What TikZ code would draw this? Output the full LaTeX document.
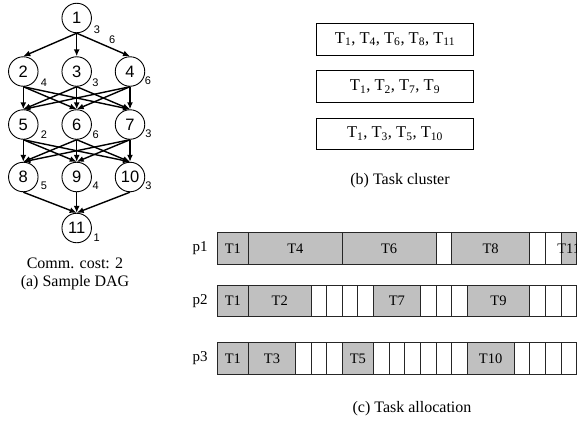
\documentclass[tikz,border=0pt]{standalone}
\usepackage{fontspec}
\setmainfont{Liberation Serif}
\newfontfamily\helv{Liberation Sans}
\usetikzlibrary{arrows.meta,calc}
\definecolor{taskgray}{RGB}{192,192,192}
\begin{document}
\begin{tikzpicture}[x=1pt,y=-1pt,
  dagnode/.style={circle, draw, line width=0.9pt, minimum size=29.5pt, inner sep=0pt, font=\helv\fontsize{16.5}{16.5}\selectfont},
  wt/.style={font=\helv\fontsize{11}{11}\selectfont, inner sep=0pt},
  dagedge/.style={line width=1.4pt, -{Latex[length=7pt,width=6pt]}},
  captext/.style={font=\fontsize{16}{16}\selectfont, inner sep=0pt},
  clbox/.style={draw, line width=0.8pt, minimum width=156.6pt, minimum height=31.7pt, inner sep=0pt, font=\fontsize{16.5}{16.5}\selectfont},
  cell/.style={draw=black!85, line width=0.9pt},
  celltext/.style={font=\fontsize{14.5}{14.5}\selectfont, inner sep=0pt},
  plabel/.style={font=\fontsize{15}{15}\selectfont, inner sep=0pt}]
\useasboundingbox (0,0) rectangle (577,421);

% ---------- (a) DAG ----------
\node[dagnode] (n1) at (76.7,18) {1};
\node[dagnode] (n2) at (23.3,71.5) {2};
\node[dagnode] (n3) at (76.7,71.5) {3};
\node[dagnode] (n4) at (130,71.5) {4};
\node[dagnode] (n5) at (23.3,124.5) {5};
\node[dagnode] (n6) at (76.7,124.5) {6};
\node[dagnode] (n7) at (130,124.5) {7};
\node[dagnode] (n8) at (23.3,177) {8};
\node[dagnode] (n9) at (76.7,177) {9};
\node[dagnode] (n10) at (130,177) {10};
\node[dagnode] (n11) at (76.7,228) {11};

\foreach \t in {2,3,4} \draw[dagedge] (n1.south) -- (n\t.north);
\foreach \s in {2,3,4} \foreach \t in {5,6,7} \draw[dagedge] (n\s.south) -- (n\t.north);
\foreach \s in {5,6,7} \foreach \t in {8,9,10} \draw[dagedge] (n\s.south) -- (n\t.north);
\foreach \s in {8,9,10} \draw[dagedge] (n\s.south) -- (n11.north);

\node[wt] (w1) at ($(n1)+(20.3,11.5)$) {3};
\node[wt] (e14) at (112.3,39.5) {6};
\node[wt] (w2) at ($(n2)+(20.7,11.5)$) {4};
\node[wt] (w3) at ($(n3)+(18.8,11)$) {3};
\node[wt] (w4) at ($(n4)+(17.9,9.5)$) {6};
\node[wt] (w5) at ($(n5)+(20.7,10)$) {2};
\node[wt] (w6) at ($(n6)+(19,10)$) {6};
\node[wt] (w7) at ($(n7)+(18.5,9.5)$) {3};
\node[wt] (w8) at ($(n8)+(20.7,9)$) {5};
\node[wt] (w9) at ($(n9)+(19,9)$) {4};
\node[wt] (w10) at ($(n10)+(18.5,9)$) {3};
\node[wt] (w11) at ($(n11)+(20,10)$) {1};

\node[captext] (comm) at (75,263) {Comm. cost: 2};
\node[captext] (capa) at (75,283) {(a) Sample DAG};

% ---------- (b) Task cluster ----------
\node[clbox] (c1) at (395,39.2) {T\textsubscript{1}, T\textsubscript{4}, T\textsubscript{6}, T\textsubscript{8}, T\textsubscript{11}};
\node[clbox] (c2) at (395,86.5) {T\textsubscript{1}, T\textsubscript{2}, T\textsubscript{7}, T\textsubscript{9}};
\node[clbox] (c3) at (395,133.8) {T\textsubscript{1}, T\textsubscript{3}, T\textsubscript{5}, T\textsubscript{10}};
\node[captext] (capb) at (400,181) {(b) Task cluster};

% ---------- (c) Task allocation ----------
\node[plabel] (p1) at (200,248.3) {p1};
\node[plabel] (p2) at (200,300.8) {p2};
\node[plabel] (p3) at (200,358.3) {p3};

\begin{scope}[shift={(217.3,232.3)}, x=15.62pt]
\foreach \s/\l/\t/\c in {0/2/T1/taskgray, 2/6/T4/taskgray, 8/6/T6/taskgray, 14/1/{}/white, 15/5/T8/taskgray, 20/1/{}/white, 21/1/{}/white, 22/1/T11/taskgray}{
  \draw[cell, fill=\c] (\s,0) rectangle ++(\l,32);
}
\foreach \s/\l/\t in {0/2/T1, 2/6/T4, 8/6/T6, 15/5/T8, 22/1/T11}{
  \node[celltext] (a\t) at (\s+\l/2,16.2) {\t};
}
\end{scope}

\begin{scope}[shift={(217.3,285)}, x=15.62pt]
\foreach \s/\l/\c in {0/2/taskgray, 2/4/taskgray, 6/1/white, 7/1/white, 8/1/white, 9/1/white, 10/3/taskgray, 13/1/white, 14/1/white, 15/1/white, 16/4/taskgray, 20/1/white, 21/1/white, 22/1/white}{
  \draw[cell, fill=\c] (\s,0) rectangle ++(\l,31.7);
}
\foreach \s/\l/\t in {0/2/T1, 2/4/T2, 10/3/T7, 16/4/T9}{
  \node[celltext] (b\t) at (\s+\l/2,16) {\t};
}
\end{scope}

\begin{scope}[shift={(217.3,342.3)}, x=15.62pt]
\foreach \s/\l/\c in {0/2/taskgray, 2/3/taskgray, 5/1/white, 6/1/white, 7/1/white, 8/2/taskgray, 10/1/white, 11/1/white, 12/1/white, 13/1/white, 14/1/white, 15/1/white, 16/3/taskgray, 19/1/white, 20/1/white, 21/1/white, 22/1/white}{
  \draw[cell, fill=\c] (\s,0) rectangle ++(\l,32);
}
\foreach \s/\l/\t in {0/2/T1, 2/3/T3, 8/2/T5, 16/3/T10}{
  \node[celltext] (c\t) at (\s+\l/2,16.2) {\t};
}
\end{scope}

\node[captext] (capc) at (412,409) {(c) Task allocation};
\end{tikzpicture}
\end{document}
